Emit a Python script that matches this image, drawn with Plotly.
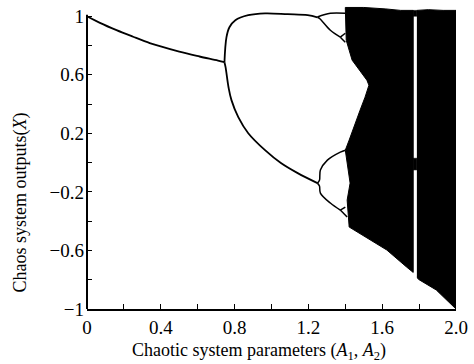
import plotly.graph_objects as go

# ---- data ----
# period-1 branch
p1_A = [0.0, 0.07, 0.16, 0.25, 0.34, 0.39, 0.5, 0.61, 0.71, 0.745]
p1_X = [1.0, 0.955, 0.905, 0.86, 0.817, 0.797, 0.758, 0.725, 0.697, 0.686]
# period-2 branches
p2u_A = [0.745, 0.756, 0.772, 0.804, 0.874, 0.965, 1.088, 1.196, 1.249]
p2u_X = [0.686, 0.857, 0.925, 0.973, 1.007, 1.02, 1.014, 1.007, 0.993]
p2l_A = [0.745, 0.751, 0.767, 0.783, 0.820, 0.874, 0.965, 1.051, 1.142, 1.249]
p2l_X = [0.686, 0.652, 0.515, 0.427, 0.311, 0.201, 0.085, -0.003, -0.072, -0.140]
# period-4 / period-8 branches (segments)
p4_segments = [
    ([1.249, 1.319, 1.40], [0.995, 1.02, 1.02]),
    ([1.249, 1.26, 1.319, 1.373], [0.993, 0.985, 0.904, 0.857]),
    ([1.373, 1.40], [0.857, 0.884]),
    ([1.373, 1.40], [0.857, 0.823]),
    ([1.249, 1.26, 1.265, 1.303, 1.373, 1.40], [-0.140, -0.12, -0.051, 0.017, 0.072, 0.085]),
    ([1.249, 1.26, 1.265, 1.319, 1.373], [-0.140, -0.16, -0.208, -0.276, -0.324]),
    ([1.373, 1.40], [-0.324, -0.304]),
    ([1.373, 1.41], [-0.324, -0.372]),
]
# chaotic band, left of the periodic window (outline)
chaosL_A = [1.40, 1.50, 1.62, 1.70, 1.768, 1.768, 1.732, 1.625, 1.421,
            1.410, 1.426, 1.40, 1.421, 1.453, 1.480, 1.507, 1.528, 1.517,
            1.475, 1.437, 1.421, 1.405, 1.40]
chaosL_X = [1.06, 1.06, 1.05, 1.04, 1.04, -0.75, -0.713, -0.597, -0.44,
            -0.256, -0.14, 0.085, 0.154, 0.27, 0.358, 0.447, 0.529, 0.563,
            0.631, 0.70, 0.768, 0.836, 1.06]
# chaotic band, right of the periodic window (outline)
chaosR_A = [1.788, 1.85, 1.93, 2.0, 2.0, 1.893, 1.80, 1.788]
chaosR_X = [1.04, 1.045, 1.04, 1.04, -1.0, -0.87, -0.80, -0.785]
# bands inside the periodic window
win_A = [1.768, 1.788]
win_top = [1.0, 1.04]
win_mid = [-0.05, 0.03]

# ---- axis ticks ----
x_ticks = [0, 0.4, 0.8, 1.2, 1.6, 2.0]
x_ticktext = ["0", "0.4", "0.8", "1.2", "1.6", "2.0"]
x_minor = [0.2, 0.6, 1.0, 1.4, 1.8]
y_ticks = [1, 0.6, 0.2, -0.2, -0.6, -1]
y_ticktext = ["1", "0.6", "0.2", "\u22120.2", "\u22120.6", "\u22121"]
y_minor = [0.8, 0.4, 0.0, -0.4, -0.8]

fig = go.Figure()
line = dict(color="black", width=1.8)

fig.add_trace(go.Scatter(x=p1_A, y=p1_X, mode="lines", line=dict(line, shape="spline"), hoverinfo="skip"))
fig.add_trace(go.Scatter(x=p2u_A, y=p2u_X, mode="lines", line=dict(line, shape="spline"), hoverinfo="skip"))
fig.add_trace(go.Scatter(x=p2l_A, y=p2l_X, mode="lines", line=dict(line, shape="spline"), hoverinfo="skip"))
for a, v in p4_segments:
    fig.add_trace(go.Scatter(x=a, y=v, mode="lines", line=dict(color="black", width=1.5, shape="spline"), hoverinfo="skip"))

fig.add_trace(go.Scatter(x=chaosL_A, y=chaosL_X, mode="lines", fill="toself", fillcolor="black",
                         line=dict(color="black", width=1), hoverinfo="skip"))
fig.add_trace(go.Scatter(x=chaosR_A, y=chaosR_X, mode="lines", fill="toself", fillcolor="black",
                         line=dict(color="black", width=1), hoverinfo="skip"))
for band in (win_top, win_mid):
    fig.add_trace(go.Scatter(x=[win_A[0], win_A[1], win_A[1], win_A[0], win_A[0]],
                             y=[band[0], band[0], band[1], band[1], band[0]],
                             mode="lines", fill="toself", fillcolor="black",
                             line=dict(color="black", width=0.5), hoverinfo="skip"))

tickfont = dict(family="Liberation Serif", size=19, color="black")
fig.update_layout(
    width=474, height=364,
    margin=dict(l=87, r=14, t=6, b=55),
    paper_bgcolor="white", plot_bgcolor="white",
    showlegend=False,
    xaxis=dict(range=[0, 2.0], tickmode="array", tickvals=x_ticks, ticktext=x_ticktext,
               ticks="inside", ticklen=5, tickwidth=1.3, tickcolor="black",
               minor=dict(tickvals=x_minor, ticks="inside", ticklen=5, tickwidth=1.3, tickcolor="black"),
               showline=True, linecolor="black", linewidth=2, showgrid=False, zeroline=False,
               tickfont=tickfont, ticklabelstandoff=0),
    yaxis=dict(range=[-1, 1.07], tickmode="array", tickvals=y_ticks, ticktext=y_ticktext,
               ticks="inside", ticklen=5, tickwidth=1.3, tickcolor="black",
               minor=dict(tickvals=y_minor, ticks="inside", ticklen=5, tickwidth=1.3, tickcolor="black"),
               showline=False, showgrid=False, zeroline=False,
               tickfont=tickfont, ticklabelstandoff=2),
    shapes=[dict(type="line", xref="paper", yref="y", x0=0, x1=0, y0=-1, y1=1.01,
                 line=dict(color="black", width=2))],
    annotations=[
        dict(text="Chaotic system parameters (<i>A</i><sub>1</sub>, <i>A</i><sub>2</sub>)",
             xref="paper", yref="paper", x=0.466, y=-0.14, xanchor="center", yanchor="middle",
             showarrow=False, font=dict(family="Liberation Serif", size=18, color="black")),
        dict(text="Chaos system outputs(<i>X</i>)", textangle=-90,
             xref="paper", yref="paper", x=-0.18, y=0.35, xanchor="center", yanchor="middle",
             showarrow=False, font=dict(family="Liberation Serif", size=18, color="black")),
    ],
)

fig.write_html("out.html")
